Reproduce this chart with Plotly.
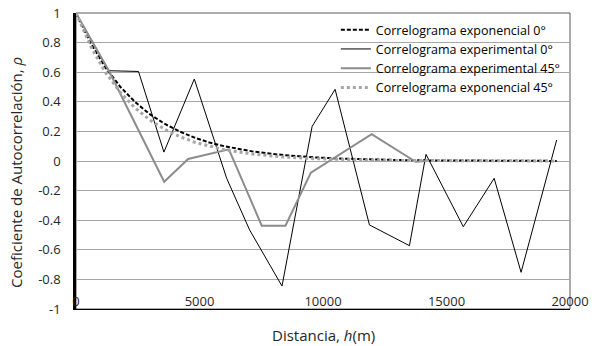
import plotly.graph_objects as go

# ---- data ----
h_model = [0, 600, 1200, 1800, 2400, 3000, 3600, 4200, 4800, 5400, 6000, 7200, 8400,
           9600, 10800, 12000, 13200, 14400, 15600, 16800, 18000, 19460]
rho_model_0 = [1.0, 0.794, 0.630, 0.500, 0.397, 0.315, 0.250, 0.199, 0.158, 0.125, 0.100,
               0.063, 0.040, 0.025, 0.016, 0.010, 0.006, 0.004, 0.0025, 0.0016, 0.001, 0.0006]
rho_model_45 = [1.0, 0.773, 0.597, 0.462, 0.357, 0.276, 0.213, 0.165, 0.127, 0.099, 0.076,
                0.046, 0.027, 0.016, 0.010, 0.006, 0.0035, 0.002, 0.0012, 0.0007, 0.0004, 0.0002]

h_exp0 = [0, 1330, 2530, 3560, 4790, 6100, 7030, 8340, 9560, 10490, 11880, 13500,
          14170, 15680, 16930, 18020, 19460]
rho_exp0 = [1.0, 0.61, 0.605, 0.06, 0.554, -0.117, -0.466, -0.845, 0.234, 0.484, -0.432,
            -0.572, 0.045, -0.444, -0.117, -0.752, 0.142]

h_exp45 = [0, 1330, 3570, 4540, 6190, 7520, 8480, 9510, 11970, 13750, 14200]
rho_exp45 = [1.0, 0.61, -0.14, 0.014, 0.079, -0.437, -0.437, -0.079, 0.182, -0.005, 0.0]

series_names = ["Correlograma exponencial 0°", "Correlograma experimental 0°",
                "Correlograma experimental 45°", "Correlograma exponencial 45°"]

y_tickvals = [1, 0.8, 0.6, 0.4, 0.2, 0, -0.2, -0.4, -0.6, -0.8, -1]
y_ticktext = ["1", "0.8", "0.6", "0.4", "0.2", "0", "-0.2", "-0.4", "-0.6", "-0.8", "-1"]
x_tickvals = [0, 5000, 10000, 15000, 20000]
x_ticktext = ["0", "5000", "10000", "15000", "20000"]

x_title = "Distancia, <i>h</i>(m)"
y_title = "Coeficiente de Autocorrelación, <i>ρ</i>"

FONT = "Open Sans"

fig = go.Figure()
fig.add_trace(go.Scatter(x=h_model, y=rho_model_0, mode="lines", name=series_names[0],
                         line=dict(color="black", width=2, dash="4px,2px")))
fig.add_trace(go.Scatter(x=h_exp0, y=rho_exp0, mode="lines", name=series_names[1],
                         line=dict(color="black", width=1)))
fig.add_trace(go.Scatter(x=h_exp45, y=rho_exp45, mode="lines", name=series_names[2],
                         line=dict(color="#8c8c8c", width=2)))
fig.add_trace(go.Scatter(x=h_model, y=rho_model_45, mode="lines", name=series_names[3],
                         line=dict(color="#a6a6a6", width=3, dash="dot")))

fig.update_layout(
    width=592, height=346,
    margin=dict(l=76, r=22, t=13, b=37, autoexpand=False),
    paper_bgcolor="white", plot_bgcolor="white",
    font=dict(family=FONT, size=13, color="#262626"),
    showlegend=True,
    legend=dict(x=0.526, y=0.993, xanchor="left", yanchor="top",
                bgcolor="rgba(0,0,0,0)", font=dict(family=FONT, size=12.5, color="black"),
                tracegroupgap=0, itemwidth=30),
    xaxis=dict(range=[0, 20000], tickvals=x_tickvals, ticktext=x_ticktext,
               showgrid=False, zeroline=False, showline=True, linecolor="black", linewidth=1,
               ticks="", ticklabelposition="inside", ticklabeloverflow="allow",
               tickfont=dict(size=13, color="#262626"), automargin=False),
    yaxis=dict(range=[-1, 1], tickvals=y_tickvals, ticktext=y_ticktext,
               showgrid=True, gridcolor="#a6a6a6", gridwidth=1, zeroline=False,
               showline=True, linecolor="black", linewidth=2.5,
               ticks="", ticklabelstandoff=10, tickfont=dict(size=13, color="#262626"),
               automargin=False),
    shapes=[dict(type="rect", xref="paper", yref="paper", x0=0, y0=0, x1=1, y1=1,
                 line=dict(color="#595959", width=1), layer="below")],
    annotations=[
        dict(text=x_title, xref="paper", yref="paper", x=0.5, y=-0.088,
             xanchor="center", yanchor="middle", showarrow=False,
             font=dict(family=FONT, size=15, color="#262626")),
        dict(text=y_title, xref="paper", yref="paper", x=-0.1215, y=0.4628,
             xanchor="center", yanchor="middle", textangle=-90, showarrow=False,
             font=dict(family=FONT, size=15, color="#262626")),
    ],
)

fig.write_html("out.html")
